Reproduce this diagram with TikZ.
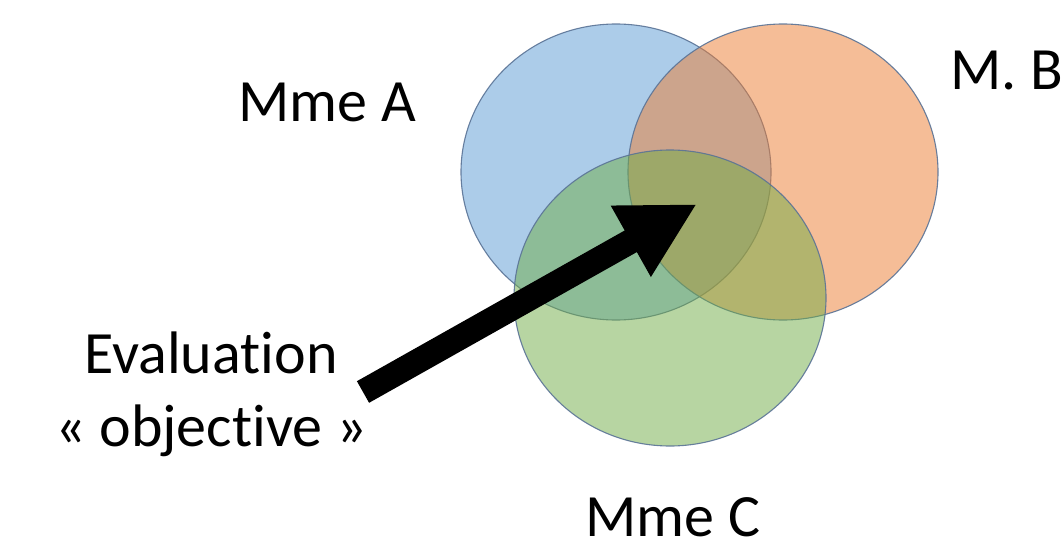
\documentclass[tikz,border=0pt]{standalone}
\usepackage{fontspec}
\setmainfont{Carlito}[Ligatures={NoCommon}]
\usetikzlibrary{arrows.meta}
\definecolor{cblue}{HTML}{5B9BD5}
\definecolor{corange}{HTML}{ED7D31}
\definecolor{cgreen}{HTML}{70AD47}
\definecolor{cline}{HTML}{5A7396}
\tikzset{
  venn/.style={fill opacity=0.5, draw=cline, draw opacity=0.9, line width=1.1pt},
  lbl/.style={inner sep=0pt, font=\fontsize{60}{72}\selectfont, text=black},
  bigarrow/.style={line width=24.8pt, -{Triangle[width=76pt,length=76pt]}}
}
\begin{document}
\begin{tikzpicture}[x=1pt,y=-1pt]
\fill[white] (0,0) rectangle (1063,549);
\useasboundingbox (0,0) rectangle (1063,549);
% circles
\draw[venn, fill=cblue]   (616,172) ellipse [x radius=155, y radius=148];
\draw[venn, fill=corange] (783,172) ellipse [x radius=155, y radius=148];
\draw[venn, fill=cgreen]  (670,298) ellipse [x radius=156, y radius=148];
% labels
\node[lbl, anchor=base] (la) at (327,121) {Mme A};
\node[lbl, anchor=base west] (lb) at (950,89) {M. B};
\node[lbl, anchor=base] (lc) at (673,536) {Mme C};
\node[lbl, anchor=base] (le1) at (211,373) {Evaluation};
\node[lbl, anchor=base] (le2) at (211,446) {« objective »};
% arrow
\coordinate (tail) at (363,392);
\coordinate (tip) at (697,204);
\draw[bigarrow] (tail) -- (tip);
\end{tikzpicture}
\end{document}
